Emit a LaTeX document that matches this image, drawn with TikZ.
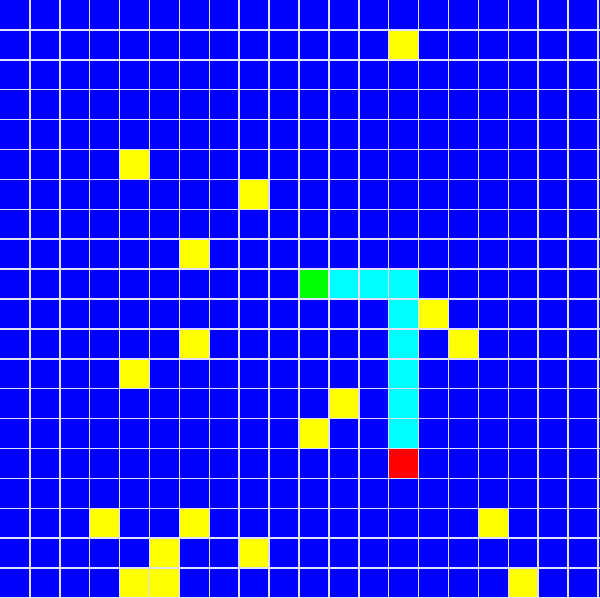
\documentclass[tikz,border=0pt]{standalone}
\usepackage{tikz}
\definecolor{boardblue}{RGB}{0,0,255}
\definecolor{wallyellow}{RGB}{255,255,0}
\definecolor{startgreen}{RGB}{0,255,0}
\definecolor{pathcyan}{RGB}{0,255,255}
\definecolor{goalred}{RGB}{255,0,0}
\definecolor{gridwhite}{RGB}{225,225,255}

\begin{document}
\begin{tikzpicture}[
    x=0.5cm, y=-0.5cm,
    wall/.style={fill=wallyellow},
    trail/.style={fill=pathcyan},
    gridline/.style={draw=gridwhite, line width=0.75pt}
]
\useasboundingbox (0,0) rectangle (20.067,20);
\fill[boardblue] (0,0) rectangle (20.067,20);
% obstacles
\foreach \c/\r in {13/1, 4/5, 8/6, 6/8, 14/10, 15/11, 6/11, 4/12, 11/13, 10/14,
                   3/17, 6/17, 16/17, 5/18, 8/18, 4/19, 5/19, 17/19}
  \path[wall] (\c,\r) rectangle ++(1,1);
% found path
\foreach \c/\r in {11/9, 12/9, 13/9, 13/10, 13/11, 13/12, 13/13, 13/14}
  \path[trail] (\c,\r) rectangle ++(1,1);
\fill[startgreen] (10,9) rectangle ++(1,1);
\fill[goalred] (13,15) rectangle ++(1,1);
% grid
\foreach \k in {1,...,20} {
  \draw[gridline] (\k,0) -- (\k,20);
  \draw[gridline] (0,\k) -- (20.067,\k);
}
\end{tikzpicture}
\end{document}
